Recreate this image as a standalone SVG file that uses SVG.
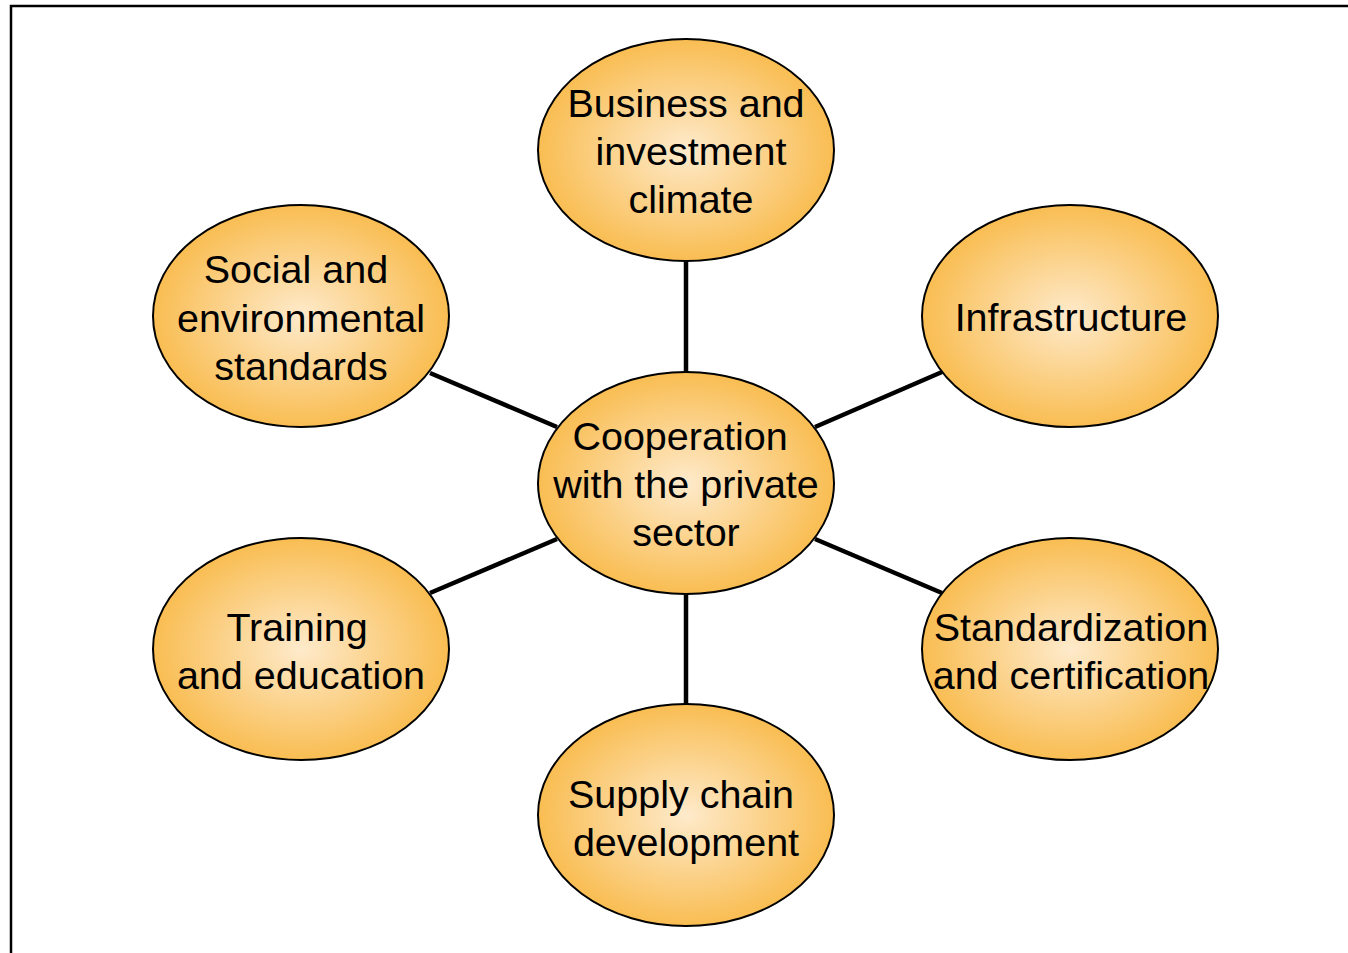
<svg xmlns="http://www.w3.org/2000/svg" width="1348" height="953" viewBox="0 0 1348 953">
<style>
.node ellipse{fill:url(#g);stroke:#000;stroke-width:2}
.node text{font-family:"Liberation Sans",Arial,sans-serif;font-size:39.5px;fill:#000;text-anchor:middle}
.conn line{stroke:#000;stroke-width:4.5}
</style>
<defs>
<radialGradient id="g" cx="50%" cy="50%" r="50%">
<stop offset="0" stop-color="#feeacb"/>
<stop offset="1" stop-color="#f9bd52"/>
</radialGradient>
</defs>
<rect x="0" y="0" width="1348" height="953" fill="#fff"/>
<path d="M11,960 V6 H1360" fill="none" stroke="#000" stroke-width="2.5"/>
<g class="conn">
<line x1="686" y1="261" x2="686" y2="372"/>
<line x1="686" y1="594" x2="686" y2="704"/>
<line x1="430" y1="373" x2="557" y2="427"/>
<line x1="942" y1="372" x2="815" y2="427"/>
<line x1="430" y1="593" x2="557" y2="539"/>
<line x1="942" y1="593" x2="815" y2="539"/>
</g>
<g id="business" class="node">
<ellipse cx="686" cy="150" rx="148" ry="111"/>
<text x="686" y="117">Business and</text>
<text x="691" y="165">investment</text>
<text x="691" y="213">climate</text>
</g>
<g id="infrastructure" class="node">
<ellipse cx="1070" cy="316" rx="148" ry="111"/>
<text x="1071" y="331">Infrastructure</text>
</g>
<g id="social" class="node">
<ellipse cx="301" cy="316" rx="148" ry="111"/>
<text x="296" y="283">Social and</text>
<text x="301" y="332">environmental</text>
<text x="301" y="380">standards</text>
</g>
<g id="center" class="node">
<ellipse cx="686" cy="483" rx="148" ry="111"/>
<text x="680" y="450">Cooperation</text>
<text x="686" y="498">with the private</text>
<text x="686" y="546">sector</text>
</g>
<g id="training" class="node">
<ellipse cx="301" cy="649" rx="148" ry="111"/>
<text x="297" y="641">Training</text>
<text x="301" y="689">and education</text>
</g>
<g id="standardization" class="node">
<ellipse cx="1070" cy="649" rx="148" ry="111"/>
<text x="1071" y="641">Standardization</text>
<text x="1071" y="689">and certification</text>
</g>
<g id="supply" class="node">
<ellipse cx="686" cy="815" rx="148" ry="111"/>
<text x="681" y="808">Supply chain</text>
<text x="686" y="856">development</text>
</g>
</svg>
